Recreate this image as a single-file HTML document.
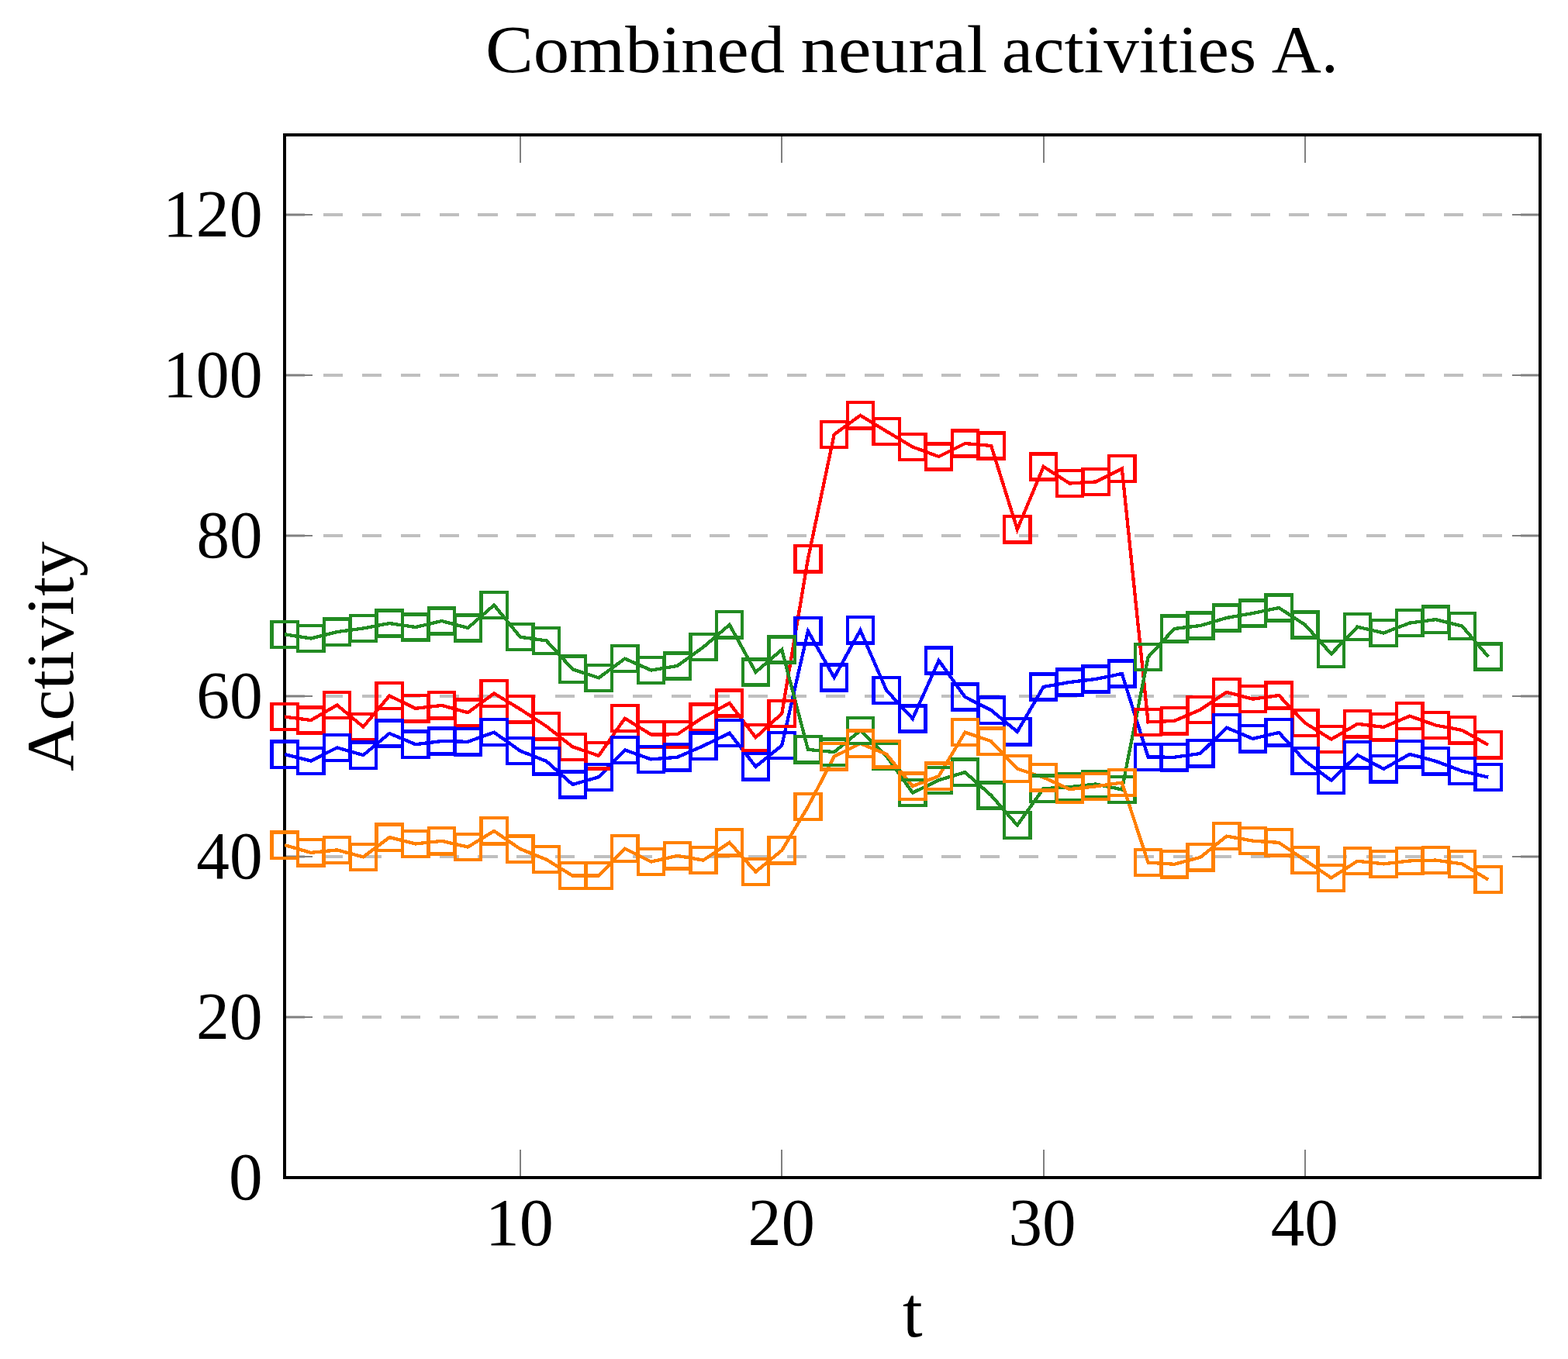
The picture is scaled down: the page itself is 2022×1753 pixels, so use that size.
<!DOCTYPE html>
<html lang="en"><head><meta charset="utf-8"><title>Combined neural activities A.</title>
<style>html,body{margin:0;padding:0;background:#fff}body{width:2022px;height:1753px}svg{display:block}text{font-family:"Liberation Serif","DejaVu Serif",serif;fill:#000}</style></head><body>
<svg width="2022" height="1753" viewBox="0 0 2022 1753">
<rect x="0" y="0" width="2022" height="1753" fill="#fff"/>
<g stroke="#bfbfbf" stroke-width="4" stroke-dasharray="25.2 24.61" fill="none" shape-rendering="crispEdges">
<path d="M367.4 1519H1986.6"/>
<path d="M367.4 1312H1986.6"/>
<path d="M367.4 1105H1986.6"/>
<path d="M367.4 898H1986.6"/>
<path d="M367.4 691H1986.6"/>
<path d="M367.4 484H1986.6"/>
<path d="M367.4 277H1986.6"/>
</g>
<g stroke="#808080" stroke-width="2" fill="none" shape-rendering="crispEdges">
<path d="M671 1519V1483"/>
<path d="M671 174V210"/>
<path d="M1008.33 1519V1483"/>
<path d="M1008.33 174V210"/>
<path d="M1345.67 1519V1483"/>
<path d="M1345.67 174V210"/>
<path d="M1683 1519V1483"/>
<path d="M1683 174V210"/>
<path d="M367 1519H403"/>
<path d="M1986 1519H1950"/>
<path d="M367 1312H403"/>
<path d="M1986 1312H1950"/>
<path d="M367 1105H403"/>
<path d="M1986 1105H1950"/>
<path d="M367 898H403"/>
<path d="M1986 898H1950"/>
<path d="M367 691H403"/>
<path d="M1986 691H1950"/>
<path d="M367 484H403"/>
<path d="M1986 484H1950"/>
<path d="M367 277H403"/>
<path d="M1986 277H1950"/>
</g>
<rect x="367" y="174" width="1619" height="1345" fill="none" stroke="#000" stroke-width="4" shape-rendering="crispEdges"/>
<g fill="none" stroke-width="4.3" stroke-linejoin="miter" stroke-miterlimit="10" shape-rendering="crispEdges">
<path stroke="#ff0000" d="M367.2 924.6L400.94 929L434.67 909.5L468.41 937.6L502.15 897.5L535.89 913.8L569.62 909.9L603.36 919.2L637.1 894.5L670.84 914.8L704.58 936.8L738.31 963.3L772.05 974.8L805.79 926.6L839.52 947.5L873.26 947.3L907 925.1L940.74 907L974.47 951.3L1008.21 920.4L1041.95 720.9L1075.69 560.4L1109.42 535.8L1143.16 556.4L1176.9 576.5L1210.64 589L1244.38 572L1278.11 575L1311.85 682.9L1345.59 602L1379.32 623.5L1413.06 621.5L1446.8 604.5L1480.54 931.4L1514.27 929.9L1548.01 915.4L1581.75 892.9L1615.49 901.7L1649.22 897L1682.96 932.6L1716.7 953.6L1750.44 933.8L1784.17 937.9L1817.91 923.6L1851.65 935.6L1885.39 941.9L1919.12 960.9"/>
<path stroke="#0000ff" d="M367.2 973.1L400.94 981.5L434.67 964.4L468.41 974.1L502.15 946L535.89 960.2L569.62 956L603.36 956.8L637.1 944.6L670.84 968.6L704.58 981.8L738.31 1012L772.05 1002.3L805.79 967.4L839.52 979.4L873.26 976.8L907 962.1L940.74 945.6L974.47 988.9L1008.21 961.6L1041.95 813.9L1075.69 874L1109.42 812.9L1143.16 890.5L1176.9 927L1210.64 852L1244.38 899L1278.11 916.1L1311.85 943.9L1345.59 886L1379.32 880L1413.06 876L1446.8 869L1480.54 976.4L1514.27 976.8L1548.01 971.9L1581.75 938.6L1615.49 952.9L1649.22 944.9L1682.96 981.6L1716.7 1006.7L1750.44 973.9L1784.17 991.9L1817.91 972.9L1851.65 981.9L1885.39 994.6L1919.12 1002.6"/>
<path stroke="#228b22" d="M367.2 818.3L400.94 823.5L434.67 815.1L468.41 810.5L502.15 804L535.89 809L569.62 801L603.36 810L637.1 780.5L670.84 821.7L704.58 826.4L738.31 863.2L772.05 874.4L805.79 849.6L839.52 864.5L873.26 859L907 834.7L940.74 805.9L974.47 867L1008.21 838L1041.95 966.9L1075.69 970.1L1109.42 942.4L1143.16 975.4L1176.9 1022.6L1210.64 1006.3L1244.38 996.1L1278.11 1026L1311.85 1064.5L1345.59 1017.2L1379.32 1015.2L1413.06 1011.5L1446.8 1018.4L1480.54 847.6L1514.27 811L1548.01 807L1581.75 797L1615.49 791L1649.22 784L1682.96 806L1716.7 843.5L1750.44 808.6L1784.17 816.5L1817.91 803.6L1851.65 799.1L1885.39 807.6L1919.12 847"/>
<path stroke="#ff8000" d="M367.2 1090.1L400.94 1099.9L434.67 1096.4L468.41 1105.4L502.15 1080.1L535.89 1088.5L569.62 1084.8L603.36 1092.6L637.1 1071.9L670.84 1095.1L704.58 1108.7L738.31 1129.6L772.05 1129.6L805.79 1094.6L839.52 1111.6L873.26 1103.9L907 1109.6L940.74 1086.8L974.47 1124.6L1008.21 1096.9L1041.95 1040.6L1075.69 975.8L1109.42 959.1L1143.16 972.9L1176.9 1014.1L1210.64 1001.1L1244.38 944.6L1278.11 956.1L1311.85 991.6L1345.59 1002.8L1379.32 1018.1L1413.06 1014.3L1446.8 1009.6L1480.54 1112.6L1514.27 1114.8L1548.01 1105.8L1581.75 1078.6L1615.49 1084.6L1649.22 1086.9L1682.96 1109.6L1716.7 1132.4L1750.44 1110.7L1784.17 1114.4L1817.91 1110.4L1851.65 1109.6L1885.39 1114.4L1919.12 1134.6"/>
</g>
<g fill="none" stroke-width="4.3" shape-rendering="crispEdges">
<path stroke="#ff0000" d="M350.6 908h33.2v33.2h-33.2zM384.34 912.4h33.2v33.2h-33.2zM418.07 892.9h33.2v33.2h-33.2zM451.81 921h33.2v33.2h-33.2zM485.55 880.9h33.2v33.2h-33.2zM519.29 897.2h33.2v33.2h-33.2zM553.02 893.3h33.2v33.2h-33.2zM586.76 902.6h33.2v33.2h-33.2zM620.5 877.9h33.2v33.2h-33.2zM654.24 898.2h33.2v33.2h-33.2zM687.98 920.2h33.2v33.2h-33.2zM721.71 946.7h33.2v33.2h-33.2zM755.45 958.2h33.2v33.2h-33.2zM789.19 910h33.2v33.2h-33.2zM822.92 930.9h33.2v33.2h-33.2zM856.66 930.7h33.2v33.2h-33.2zM890.4 908.5h33.2v33.2h-33.2zM924.14 890.4h33.2v33.2h-33.2zM957.87 934.7h33.2v33.2h-33.2zM991.61 903.8h33.2v33.2h-33.2zM1025.35 704.3h33.2v33.2h-33.2zM1059.09 543.8h33.2v33.2h-33.2zM1092.83 519.2h33.2v33.2h-33.2zM1126.56 539.8h33.2v33.2h-33.2zM1160.3 559.9h33.2v33.2h-33.2zM1194.04 572.4h33.2v33.2h-33.2zM1227.78 555.4h33.2v33.2h-33.2zM1261.51 558.4h33.2v33.2h-33.2zM1295.25 666.3h33.2v33.2h-33.2zM1328.99 585.4h33.2v33.2h-33.2zM1362.72 606.9h33.2v33.2h-33.2zM1396.46 604.9h33.2v33.2h-33.2zM1430.2 587.9h33.2v33.2h-33.2zM1463.94 914.8h33.2v33.2h-33.2zM1497.67 913.3h33.2v33.2h-33.2zM1531.41 898.8h33.2v33.2h-33.2zM1565.15 876.3h33.2v33.2h-33.2zM1598.89 885.1h33.2v33.2h-33.2zM1632.62 880.4h33.2v33.2h-33.2zM1666.36 916h33.2v33.2h-33.2zM1700.1 937h33.2v33.2h-33.2zM1733.84 917.2h33.2v33.2h-33.2zM1767.58 921.3h33.2v33.2h-33.2zM1801.31 907h33.2v33.2h-33.2zM1835.05 919h33.2v33.2h-33.2zM1868.79 925.3h33.2v33.2h-33.2zM1902.53 944.3h33.2v33.2h-33.2z"/>
<path stroke="#0000ff" d="M350.6 956.5h33.2v33.2h-33.2zM384.34 964.9h33.2v33.2h-33.2zM418.07 947.8h33.2v33.2h-33.2zM451.81 957.5h33.2v33.2h-33.2zM485.55 929.4h33.2v33.2h-33.2zM519.29 943.6h33.2v33.2h-33.2zM553.02 939.4h33.2v33.2h-33.2zM586.76 940.2h33.2v33.2h-33.2zM620.5 928h33.2v33.2h-33.2zM654.24 952h33.2v33.2h-33.2zM687.98 965.2h33.2v33.2h-33.2zM721.71 995.4h33.2v33.2h-33.2zM755.45 985.7h33.2v33.2h-33.2zM789.19 950.8h33.2v33.2h-33.2zM822.92 962.8h33.2v33.2h-33.2zM856.66 960.2h33.2v33.2h-33.2zM890.4 945.5h33.2v33.2h-33.2zM924.14 929h33.2v33.2h-33.2zM957.87 972.3h33.2v33.2h-33.2zM991.61 945h33.2v33.2h-33.2zM1025.35 797.3h33.2v33.2h-33.2zM1059.09 857.4h33.2v33.2h-33.2zM1092.83 796.3h33.2v33.2h-33.2zM1126.56 873.9h33.2v33.2h-33.2zM1160.3 910.4h33.2v33.2h-33.2zM1194.04 835.4h33.2v33.2h-33.2zM1227.78 882.4h33.2v33.2h-33.2zM1261.51 899.5h33.2v33.2h-33.2zM1295.25 927.3h33.2v33.2h-33.2zM1328.99 869.4h33.2v33.2h-33.2zM1362.72 863.4h33.2v33.2h-33.2zM1396.46 859.4h33.2v33.2h-33.2zM1430.2 852.4h33.2v33.2h-33.2zM1463.94 959.8h33.2v33.2h-33.2zM1497.67 960.2h33.2v33.2h-33.2zM1531.41 955.3h33.2v33.2h-33.2zM1565.15 922h33.2v33.2h-33.2zM1598.89 936.3h33.2v33.2h-33.2zM1632.62 928.3h33.2v33.2h-33.2zM1666.36 965h33.2v33.2h-33.2zM1700.1 990.1h33.2v33.2h-33.2zM1733.84 957.3h33.2v33.2h-33.2zM1767.58 975.3h33.2v33.2h-33.2zM1801.31 956.3h33.2v33.2h-33.2zM1835.05 965.3h33.2v33.2h-33.2zM1868.79 978h33.2v33.2h-33.2zM1902.53 986h33.2v33.2h-33.2z"/>
<path stroke="#228b22" d="M350.6 801.7h33.2v33.2h-33.2zM384.34 806.9h33.2v33.2h-33.2zM418.07 798.5h33.2v33.2h-33.2zM451.81 793.9h33.2v33.2h-33.2zM485.55 787.4h33.2v33.2h-33.2zM519.29 792.4h33.2v33.2h-33.2zM553.02 784.4h33.2v33.2h-33.2zM586.76 793.4h33.2v33.2h-33.2zM620.5 763.9h33.2v33.2h-33.2zM654.24 805.1h33.2v33.2h-33.2zM687.98 809.8h33.2v33.2h-33.2zM721.71 846.6h33.2v33.2h-33.2zM755.45 857.8h33.2v33.2h-33.2zM789.19 833h33.2v33.2h-33.2zM822.92 847.9h33.2v33.2h-33.2zM856.66 842.4h33.2v33.2h-33.2zM890.4 818.1h33.2v33.2h-33.2zM924.14 789.3h33.2v33.2h-33.2zM957.87 850.4h33.2v33.2h-33.2zM991.61 821.4h33.2v33.2h-33.2zM1025.35 950.3h33.2v33.2h-33.2zM1059.09 953.5h33.2v33.2h-33.2zM1092.83 925.8h33.2v33.2h-33.2zM1126.56 958.8h33.2v33.2h-33.2zM1160.3 1006h33.2v33.2h-33.2zM1194.04 989.7h33.2v33.2h-33.2zM1227.78 979.5h33.2v33.2h-33.2zM1261.51 1009.4h33.2v33.2h-33.2zM1295.25 1047.9h33.2v33.2h-33.2zM1328.99 1000.6h33.2v33.2h-33.2zM1362.72 998.6h33.2v33.2h-33.2zM1396.46 994.9h33.2v33.2h-33.2zM1430.2 1001.8h33.2v33.2h-33.2zM1463.94 831h33.2v33.2h-33.2zM1497.67 794.4h33.2v33.2h-33.2zM1531.41 790.4h33.2v33.2h-33.2zM1565.15 780.4h33.2v33.2h-33.2zM1598.89 774.4h33.2v33.2h-33.2zM1632.62 767.4h33.2v33.2h-33.2zM1666.36 789.4h33.2v33.2h-33.2zM1700.1 826.9h33.2v33.2h-33.2zM1733.84 792h33.2v33.2h-33.2zM1767.58 799.9h33.2v33.2h-33.2zM1801.31 787h33.2v33.2h-33.2zM1835.05 782.5h33.2v33.2h-33.2zM1868.79 791h33.2v33.2h-33.2zM1902.53 830.4h33.2v33.2h-33.2z"/>
<path stroke="#ff8000" d="M350.6 1073.5h33.2v33.2h-33.2zM384.34 1083.3h33.2v33.2h-33.2zM418.07 1079.8h33.2v33.2h-33.2zM451.81 1088.8h33.2v33.2h-33.2zM485.55 1063.5h33.2v33.2h-33.2zM519.29 1071.9h33.2v33.2h-33.2zM553.02 1068.2h33.2v33.2h-33.2zM586.76 1076h33.2v33.2h-33.2zM620.5 1055.3h33.2v33.2h-33.2zM654.24 1078.5h33.2v33.2h-33.2zM687.98 1092.1h33.2v33.2h-33.2zM721.71 1113h33.2v33.2h-33.2zM755.45 1113h33.2v33.2h-33.2zM789.19 1078h33.2v33.2h-33.2zM822.92 1095h33.2v33.2h-33.2zM856.66 1087.3h33.2v33.2h-33.2zM890.4 1093h33.2v33.2h-33.2zM924.14 1070.2h33.2v33.2h-33.2zM957.87 1108h33.2v33.2h-33.2zM991.61 1080.3h33.2v33.2h-33.2zM1025.35 1024h33.2v33.2h-33.2zM1059.09 959.2h33.2v33.2h-33.2zM1092.83 942.5h33.2v33.2h-33.2zM1126.56 956.3h33.2v33.2h-33.2zM1160.3 997.5h33.2v33.2h-33.2zM1194.04 984.5h33.2v33.2h-33.2zM1227.78 928h33.2v33.2h-33.2zM1261.51 939.5h33.2v33.2h-33.2zM1295.25 975h33.2v33.2h-33.2zM1328.99 986.2h33.2v33.2h-33.2zM1362.72 1001.5h33.2v33.2h-33.2zM1396.46 997.7h33.2v33.2h-33.2zM1430.2 993h33.2v33.2h-33.2zM1463.94 1096h33.2v33.2h-33.2zM1497.67 1098.2h33.2v33.2h-33.2zM1531.41 1089.2h33.2v33.2h-33.2zM1565.15 1062h33.2v33.2h-33.2zM1598.89 1068h33.2v33.2h-33.2zM1632.62 1070.3h33.2v33.2h-33.2zM1666.36 1093h33.2v33.2h-33.2zM1700.1 1115.8h33.2v33.2h-33.2zM1733.84 1094.1h33.2v33.2h-33.2zM1767.58 1097.8h33.2v33.2h-33.2zM1801.31 1093.8h33.2v33.2h-33.2zM1835.05 1093h33.2v33.2h-33.2zM1868.79 1097.8h33.2v33.2h-33.2zM1902.53 1118h33.2v33.2h-33.2z"/>
</g>
<text transform="translate(295.075 1547) scale(1.015 1)" font-size="86">0</text>
<text transform="translate(253.037 1340) scale(0.996 1)" font-size="86">20</text>
<text transform="translate(253.232 1133) scale(0.993 1)" font-size="86">40</text>
<text transform="translate(253.125 926) scale(0.995 1)" font-size="86">60</text>
<text transform="translate(253.56 719) scale(0.989 1)" font-size="86">80</text>
<text transform="translate(209.958 512) scale(0.998 1)" font-size="86">100</text>
<text transform="translate(209.958 305) scale(0.998 1)" font-size="86">120</text>
<text transform="translate(625.647 1606) scale(1.026 1)" font-size="86">10</text>
<text transform="translate(964.609 1606) scale(1.003 1)" font-size="86">20</text>
<text transform="translate(1300.528 1606) scale(1.014 1)" font-size="86">30</text>
<text transform="translate(1638.701 1606) scale(1.012 1)" font-size="86">40</text>
<text transform="translate(1163.899 1723.7) scale(0.999 1)" font-size="92.4">t</text>
<text y="93.1" font-size="86"><tspan x="625.898" textLength="386.234" lengthAdjust="spacingAndGlyphs">Combined</tspan> <tspan x="1032.489" textLength="240.74" lengthAdjust="spacingAndGlyphs">neural</tspan> <tspan x="1291.801" textLength="328.487" lengthAdjust="spacingAndGlyphs">activities</tspan> <tspan x="1639.834" textLength="86.212" lengthAdjust="spacingAndGlyphs">A.</tspan></text>
<text transform="translate(94.1 994.984) rotate(-90) scale(1.052 1)" font-size="86">Activity</text>
</svg></body></html>
